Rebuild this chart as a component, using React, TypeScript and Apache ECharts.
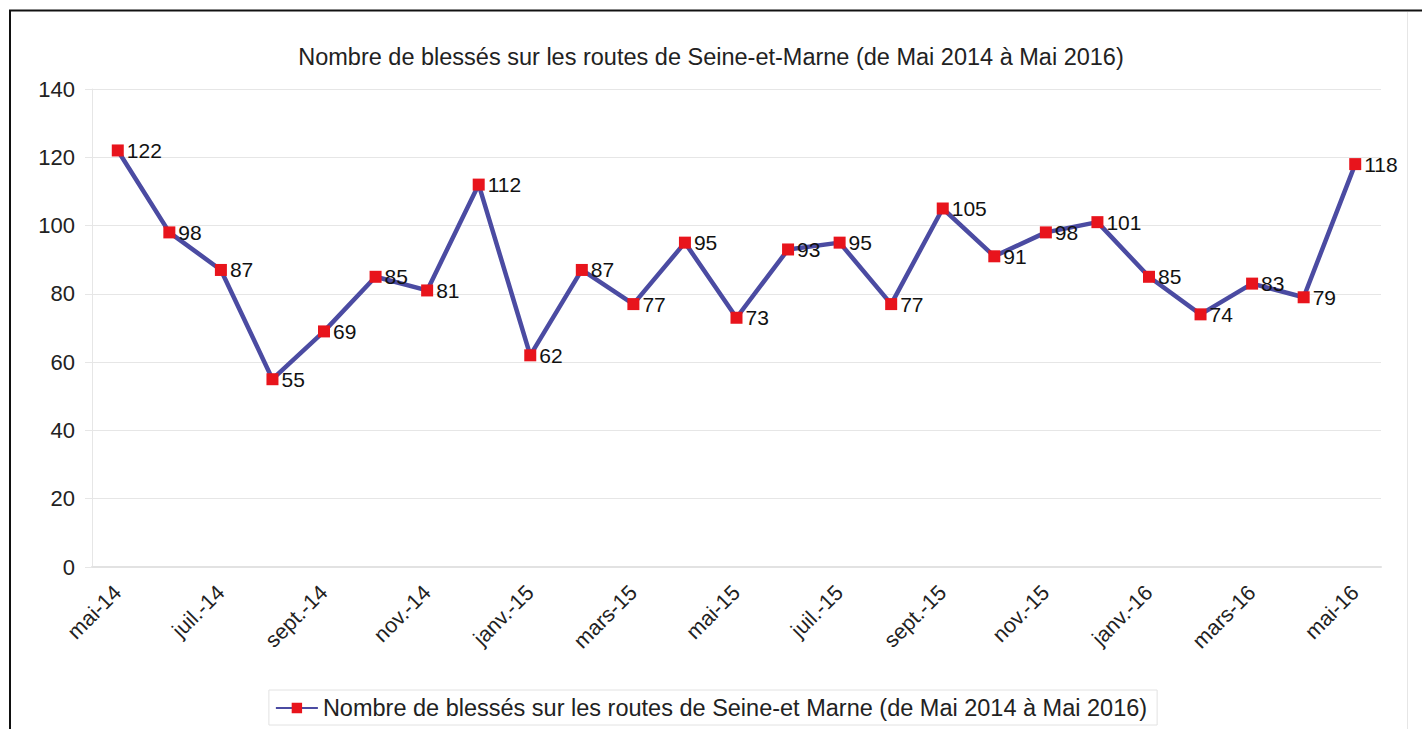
import React, { useEffect, useRef } from "react";
import * as echarts from "echarts";

const titleText = "Nombre de blessés sur les routes de Seine-et-Marne (de Mai 2014 à Mai 2016)";
const seriesName = "Nombre de blessés sur les routes de Seine-et Marne (de Mai 2014 à Mai 2016)";

const months = [
  "mai-14", "juin-14", "juil.-14", "août-14", "sept.-14", "oct.-14", "nov.-14", "déc.-14",
  "janv.-15", "févr.-15", "mars-15", "avr.-15", "mai-15", "juin-15", "juil.-15", "août-15",
  "sept.-15", "oct.-15", "nov.-15", "déc.-15", "janv.-16", "févr.-16", "mars-16", "avr.-16", "mai-16",
];

const injured = [122, 98, 87, 55, 69, 85, 81, 112, 62, 87, 77, 95, 73, 93, 95, 77, 105, 91, 98, 101, 85, 74, 83, 79, 118];

const yTicks = { min: 0, max: 140, interval: 20 };

export default function App() {
  const ref = useRef<HTMLDivElement>(null);
  useEffect(() => {
    if (!ref.current) return;
    const chart = echarts.init(ref.current, null, { renderer: "svg" });
    const font = "Liberation Sans, Arial, sans-serif";
    chart.setOption({
      animation: false,
      backgroundColor: "#fff",
      textStyle: { fontFamily: font },
      title: {
        text: titleText,
        left: "center",
        top: 40,
        textStyle: { fontFamily: font, fontSize: 23.5, fontWeight: "normal", color: "#222" },
      },
      graphic: [
        { type: "line", shape: { x1: 9, y1: 10.5, x2: 1422, y2: 10.5 }, style: { stroke: "#111", lineWidth: 2 } },
        { type: "line", shape: { x1: 10, y1: 10, x2: 10, y2: 729 }, style: { stroke: "#111", lineWidth: 2 } },
        { type: "line", shape: { x1: 1407.5, y1: 12, x2: 1407.5, y2: 729 }, style: { stroke: "#e6e6e6", lineWidth: 1 } },
      ],
      grid: { left: 92, right: 41, top: 89, bottom: 162, containLabel: false },
      legend: {
        bottom: 4,
        left: "center",
        data: [seriesName],
        itemWidth: 42,
        itemHeight: 13,
        itemGap: 4,
        padding: [6, 10, 5, 6],
        borderColor: "#e2e2e2",
        borderWidth: 1,
        textStyle: { fontFamily: font, fontSize: 23.5, color: "#222" },
      },
      xAxis: {
        type: "category",
        data: months,
        boundaryGap: true,
        axisLine: { lineStyle: { color: "#e2e2e2", width: 2 } },
        axisTick: { interval: 1, length: 6, lineStyle: { color: "#e8e8e8", width: 1 } },
        axisLabel: {
          interval: 1,
          rotate: 45,
          margin: 22,
          fontFamily: font,
          fontSize: 21.5,
          color: "#222",
        },
      },
      yAxis: {
        type: "value",
        min: yTicks.min,
        max: yTicks.max,
        interval: yTicks.interval,
        axisLine: { show: true, lineStyle: { color: "#e6e6e6", width: 1 } },
        axisTick: { show: true, length: 7, lineStyle: { color: "#e6e6e6" } },
        splitLine: { lineStyle: { color: "#e6e6e6", width: 1 } },
        axisLabel: { margin: 17, fontFamily: font, fontSize: 22, color: "#222" },
      },
      series: [
        {
          name: seriesName,
          type: "line",
          data: injured,
          symbol: "rect",
          symbolSize: 12,
          lineStyle: { color: "#4b4ba2", width: 4.5 },
          itemStyle: { color: "#e8141c" },
          label: {
            show: true,
            position: "right",
            distance: 3,
            fontFamily: font,
            fontSize: 21,
            color: "#111",
          },
        },
      ],
    });
    return () => chart.dispose();
  }, []);
  return (
    <div
      ref={ref}
      style={{ position: "fixed", left: 0, top: 0, width: 1422, height: 729 }}
    />
  );
}
